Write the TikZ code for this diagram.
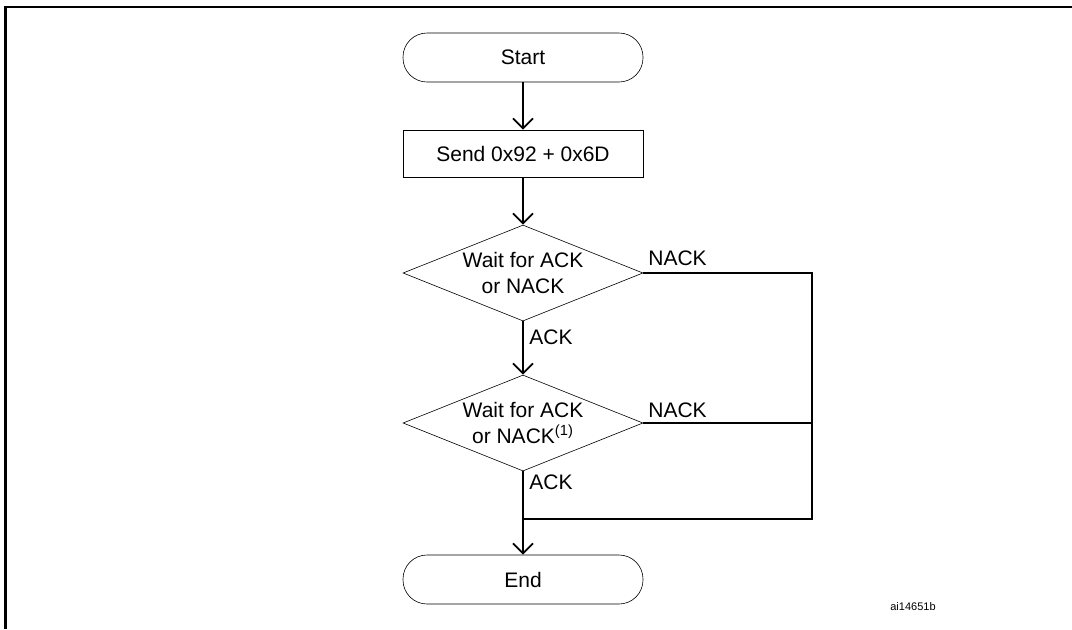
\documentclass[tikz,border=0pt]{standalone}
\usepackage{fontspec}
\setmainfont{Liberation Sans}
\usetikzlibrary{shapes.geometric,arrows.meta}
\newlength{\du}
\setlength{\du}{0.5pt}
\definecolor{dialinecolor}{rgb}{0.000000, 0.000000, 0.000000}
\tikzset{
  terminal/.style={draw=dialinecolor,line width=0.6\du,rounded corners=24\du,minimum width=240\du,minimum height=49\du,inner sep=0pt,font=\fontsize{10.5}{13}\selectfont},
  process/.style={draw=dialinecolor,line width=0.6\du,minimum width=240\du,minimum height=47\du,inner sep=0pt,font=\fontsize{10.5}{13}\selectfont},
  decision/.style={draw=dialinecolor,line width=0.6\du,diamond,aspect=2.5,minimum width=240\du,minimum height=96\du,inner sep=0pt,align=center,font=\fontsize{10.5}{13}\selectfont},
  lbl/.style={anchor=west,inner sep=0pt,font=\fontsize{10.5}{13}\selectfont},
  flow/.style={draw=dialinecolor,line width=0.9pt,-{Straight Barb[length=5pt,width=10pt]}},
  wire/.style={draw=dialinecolor,line width=0.9pt},
}

\begin{document}
\begin{tikzpicture}
\pgftransformxscale{1.000000}
\pgftransformyscale{-1.000000}
\useasboundingbox (0\du,0\du) rectangle (1072\du,629\du);
% frame
\draw[line width=1.2pt] (5.5\du,629\du)--(5.5\du,7\du)--(1072\du,7\du);
% shapes
\node[terminal] (start) at (523\du,57.5\du) {Start};
\node[process] (send) at (523\du,153.5\du) {Send 0x92 + 0x6D};
\node[decision] (waitA) at (523\du,273\du) {Wait for ACK\\or NACK};
\node[decision] (waitB) at (523\du,423\du) {Wait for ACK\\or NACK\textsuperscript{(1)}};
\node[terminal] (stop) at (523\du,579.5\du) {End};
\coordinate (nackA) at (812\du,273\du);
\coordinate (nackB) at (812\du,423\du);
\coordinate (back) at (812\du,519\du);
\coordinate (join) at (523\du,519\du);
% connectors
\draw[flow] (start) -- (send);
\draw[flow] (send) -- (waitA);
\draw[flow] (waitA) -- (waitB);
\draw[flow] (waitB) -- (stop);
\draw[wire] (waitA.east) -- (nackA) -- (back) -- (join);
\draw[wire] (waitB.east) -- (nackB);
% labels
\node[lbl] (nackAlbl) at (648\du,258\du) {NACK};
\node[lbl] (ackAlbl) at (529\du,337\du) {ACK};
\node[lbl] (nackBlbl) at (648\du,410\du) {NACK};
\node[lbl] (ackBlbl) at (529\du,482\du) {ACK};
\node[inner sep=0pt,font=\fontsize{5.5}{6}\selectfont] (ref) at (913\du,607\du) {ai14651b};
\end{tikzpicture}
\end{document}
